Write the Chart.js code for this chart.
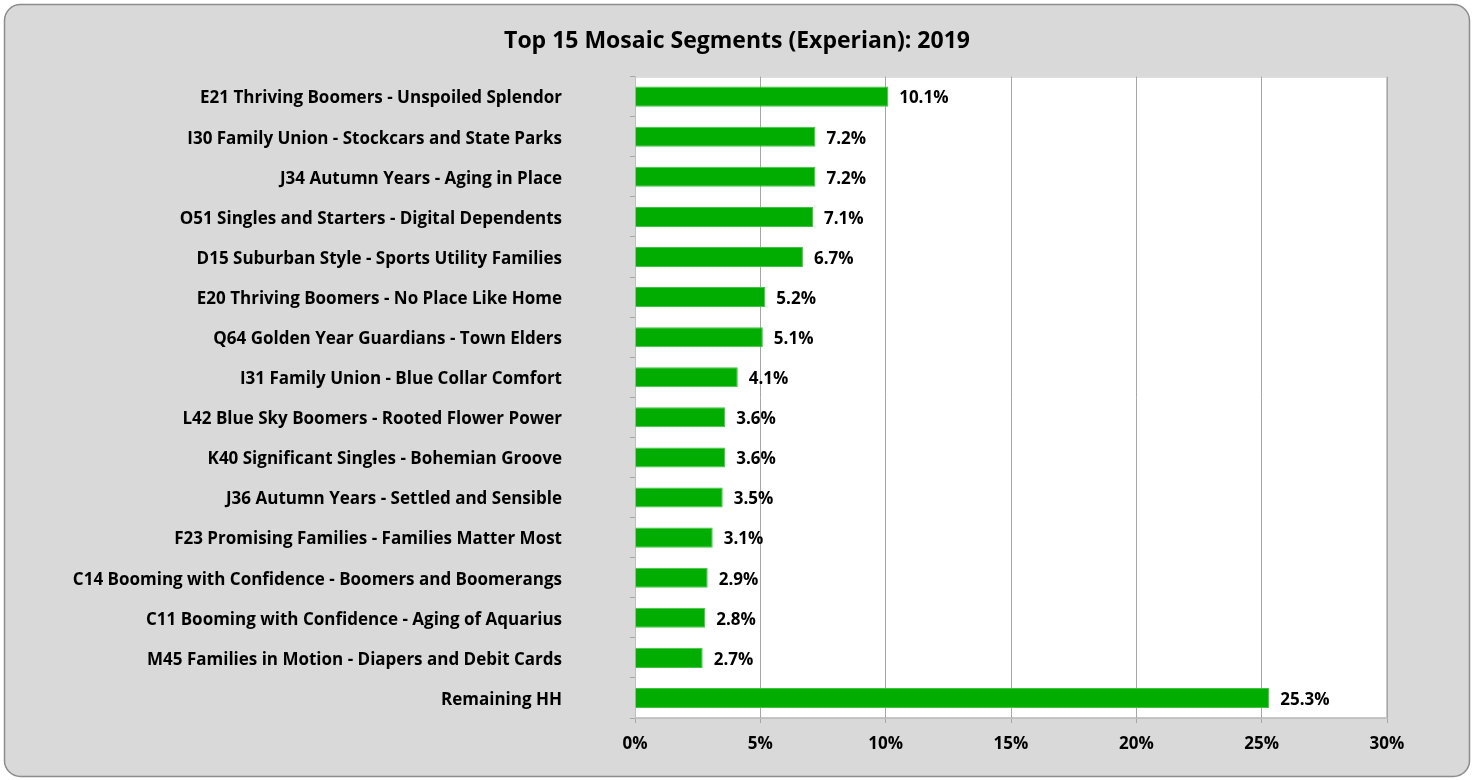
<!DOCTYPE html>
<html>
<head>
<meta charset="utf-8">
<title>Top 15 Mosaic Segments (Experian): 2019</title>
<script src="https://cdn.jsdelivr.net/npm/chart.js@4.4.1/dist/chart.umd.min.js"></script>
<style>
  html, body { margin: 0; padding: 0; background: #fff; }
  #wrap { width: 1474px; height: 780px; }
</style>
</head>
<body>
<div id="wrap"><canvas id="myChart" width="1474" height="780"></canvas></div>
<script>
const segments = [
  'E21 Thriving Boomers - Unspoiled Splendor',
  'I30 Family Union - Stockcars and State Parks',
  'J34 Autumn Years - Aging in Place',
  'O51 Singles and Starters - Digital Dependents',
  'D15 Suburban Style - Sports Utility Families',
  'E20 Thriving Boomers - No Place Like Home',
  'Q64 Golden Year Guardians - Town Elders',
  'I31 Family Union - Blue Collar Comfort',
  'L42 Blue Sky Boomers - Rooted Flower Power',
  'K40 Significant Singles - Bohemian Groove',
  'J36 Autumn Years - Settled and Sensible',
  'F23 Promising Families - Families Matter Most',
  'C14 Booming with Confidence - Boomers and Boomerangs',
  'C11 Booming with Confidence - Aging of Aquarius',
  'M45 Families in Motion - Diapers and Debit Cards',
  'Remaining HH'
];
const shares = [10.1, 7.2, 7.2, 7.1, 6.7, 5.2, 5.1, 4.1, 3.6, 3.6, 3.5, 3.1, 2.9, 2.8, 2.7, 25.3];
const xTicks = [0, 5, 10, 15, 20, 25, 30];

const FONT = '"Open Sans", Calibri, Carlito, sans-serif';

// gray rounded panel behind everything, white plot area on top of it
const panel = {
  id: 'panel',
  beforeDraw(chart) {
    const c = chart.ctx;
    const a = chart.chartArea;
    c.save();
    c.fillStyle = '#ffffff';
    c.fillRect(0, 0, chart.width, chart.height);
    c.beginPath();
    c.roundRect(4.5, 4.5, chart.width - 9, chart.height - 8, 16);
    c.fillStyle = '#d9d9d9';
    c.fill();
    c.lineWidth = 1.5;
    c.strokeStyle = '#8c8c8c';
    c.stroke();
    c.fillStyle = '#ffffff';
    c.fillRect(a.left, a.top, a.right - a.left, a.bottom - a.top);
    c.lineWidth = 1;
    c.strokeStyle = '#c8c8c8';
    c.strokeRect(a.left + 0.5, a.top + 0.5, a.right - a.left - 1, a.bottom - a.top - 1);
    c.restore();
  }
};

// value text to the right of each bar
const barValues = {
  id: 'barValues',
  afterDatasetsDraw(chart) {
    const c = chart.ctx;
    const meta = chart.getDatasetMeta(0);
    c.save();
    c.font = 'bold 17px ' + FONT;
    c.fillStyle = '#000';
    c.textAlign = 'left';
    c.textBaseline = 'middle';
    meta.data.forEach((bar, i) => {
      c.fillText(shares[i].toFixed(1) + '%', bar.x + 11, bar.y + 2);
    });
    c.restore();
  }
};

const ctx = document.getElementById('myChart');
const myChart = new Chart(ctx, {
  type: 'bar',
  data: {
    labels: segments,
    datasets: [{
      data: shares,
      backgroundColor: '#00ad00',
      borderColor: '#3fc43f',
      borderWidth: 1,
      barPercentage: 0.5,
      categoryPercentage: 1
    }]
  },
  plugins: [panel, barValues],
  options: {
    indexAxis: 'y',
    responsive: false,
    animation: false,
    layout: { padding: 0 },
    plugins: {
      legend: { display: false },
      tooltip: { enabled: false },
      title: {
        display: true,
        text: 'Top 15 Mosaic Segments (Experian): 2019',
        color: '#000',
        font: { family: FONT, size: 23, weight: 'bold', lineHeight: 1.2 },
        padding: { top: 28, bottom: 21 }
      }
    },
    scales: {
      x: {
        min: 0,
        max: 30,
        afterBuildTicks(scale) {
          scale.ticks = xTicks.map(v => ({ value: v }));
        },
        afterFit(scale) {
          scale.height = 62;
          scale.paddingLeft = 0;
          scale.paddingRight = 0;
        },
        grid: { color: '#a6a6a6', tickLength: 5, tickColor: '#a6a6a6' },
        border: { color: '#bfbfbf' },
        ticks: {
          color: '#000',
          padding: 11,
          font: { family: FONT, size: 17, weight: 'bold' },
          callback: v => v + '%'
        }
      },
      y: {
        afterFit(scale) {
          scale.width = 635;
          scale.paddingTop = 0;
          scale.paddingBottom = 0;
        },
        grid: { drawOnChartArea: false, tickLength: 5, tickColor: '#a6a6a6', offset: true },
        border: { color: '#bfbfbf' },
        ticks: {
          color: '#000',
          padding: 68,
          labelOffset: 2,
          autoSkip: false,
          font: { family: FONT, size: 17, weight: 'bold' }
        }
      },
      // empty strip on the right so the plot ends where the panel margin starts
      yRight: {
        position: 'right',
        afterFit(scale) {
          scale.width = 87;
          scale.paddingTop = 0;
          scale.paddingBottom = 0;
        },
        grid: { display: false },
        border: { display: false },
        ticks: { display: false }
      }
    }
  }
});
</script>
</body>
</html>
